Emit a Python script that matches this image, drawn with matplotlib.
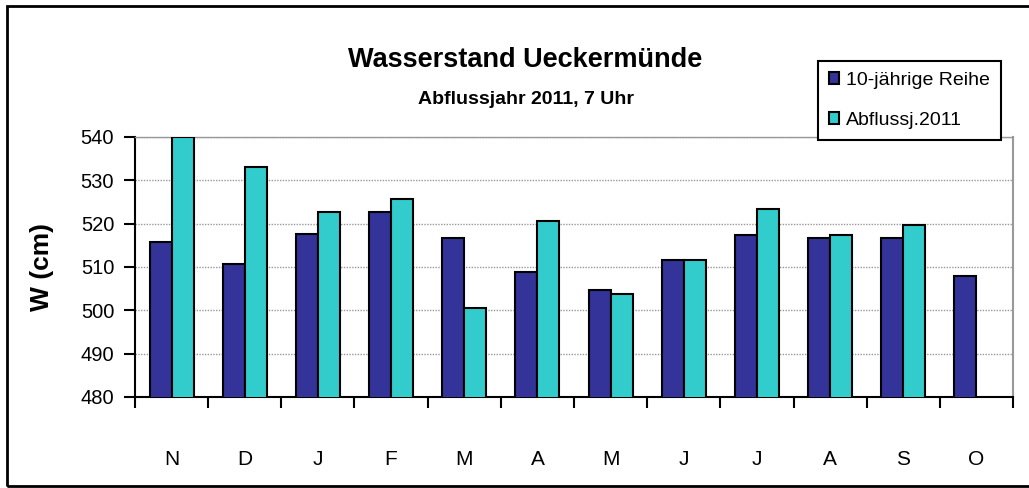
# Wasserstand Ueckermünde - Balkendiagramm

import matplotlib
matplotlib.use("Agg")
import matplotlib.pyplot as plt
import matplotlib.patches as mpatches
import numpy as np

# ========== 1. Schrift ==========
plt.rcParams["font.family"] = ["Liberation Sans", "DejaVu Sans"]

# ========== 2. Daten ==========
monate = ["N", "D", "J", "F", "M", "A", "M", "J", "J", "A", "S", "O"]
reihe_10j = [515.8, 510.8, 517.6, 522.7, 516.6, 508.8, 504.6, 511.6, 517.5, 516.6, 516.6, 507.9]
abfluss_2011 = [540.0, 533.0, 522.8, 525.7, 500.5, 520.7, 503.8, 511.6, 523.4, 517.5, 519.8, np.nan]
y_ticks = [480, 490, 500, 510, 520, 530, 540]

DUNKEL = "#333399"
TUERKIS = "#33CCCC"

# ========== 3. Figur ==========
fig = plt.figure(figsize=(10.29, 4.88), dpi=100)
ax = fig.add_axes([135 / 1029, 1 - 397 / 488, 878 / 1029, 260 / 488])

x = np.arange(len(monate))
b = 0.3
ax.bar(x - b / 2, reihe_10j, width=b, color=DUNKEL, edgecolor="black",
       linewidth=1.5, label="10-jährige Reihe", zorder=3)
ax.bar(x + b / 2, abfluss_2011, width=b, color=TUERKIS, edgecolor="black",
       linewidth=1.5, label="Abflussj.2011", zorder=3)

ax.set_xlim(-0.5, len(monate) - 0.5)
ax.set_ylim(y_ticks[0], y_ticks[-1])
ax.set_yticks(y_ticks)

# Gitter gepunktet
ax.set_axisbelow(True)
ax.yaxis.grid(True, linestyle=(0, (1, 1)), color="#999999", linewidth=1)

# x-Achse: Beschriftung in der Mitte, Striche an den Grenzen
ax.set_xticks(x)
ax.set_xticklabels(monate)
ax.set_xticks(np.arange(-0.5, len(monate), 1), minor=True)
ax.tick_params(axis="x", which="major", length=0, pad=38, labelsize=15)
ax.tick_params(axis="x", which="minor", length=8, width=1.5, direction="out")
ax.tick_params(axis="y", length=8, width=1.5, pad=7, labelsize=14.5)

# Rahmen
ax.spines["left"].set_linewidth(1.5)
ax.spines["bottom"].set_linewidth(1.5)
ax.spines["right"].set_color("#999999")
ax.spines["right"].set_linewidth(1.5)
ax.spines["top"].set_color("#999999")
ax.spines["top"].set_linewidth(1)

ax.set_ylabel("W (cm)", fontsize=19, fontweight="bold")
ax.yaxis.set_label_coords(-0.092, 0.5)

# ========== 4. Titel ==========
fig.text(525 / 1029, 1 - 60 / 488, "Wasserstand Ueckermünde", ha="center", va="center",
         fontsize=19.5, fontweight="bold")
fig.text(526 / 1029, 1 - 100 / 488, "Abflussjahr 2011, 7 Uhr", ha="center", va="center",
         fontsize=14, fontweight="bold")

# ========== 5. Legende ==========
leg = fig.legend(loc="upper left", bbox_to_anchor=(818 / 1029, 1 - 61 / 488),
                 frameon=True, fancybox=False, framealpha=1, edgecolor="black",
                 fontsize=14, handlelength=0.55, handleheight=0.55, handletextpad=0.35,
                 labelspacing=1.2, borderpad=0.55, borderaxespad=0)
leg.get_frame().set_linewidth(1.5)

# äußerer Rahmen um das Diagramm
rahmen = mpatches.Rectangle((7 / 1029, 1 - 486 / 488), 1.1, 480 / 488, fill=False,
                            edgecolor="black", linewidth=2, transform=fig.transFigure,
                            figure=fig, clip_on=False)
fig.patches.append(rahmen)

fig.savefig("out.png", dpi=100)
